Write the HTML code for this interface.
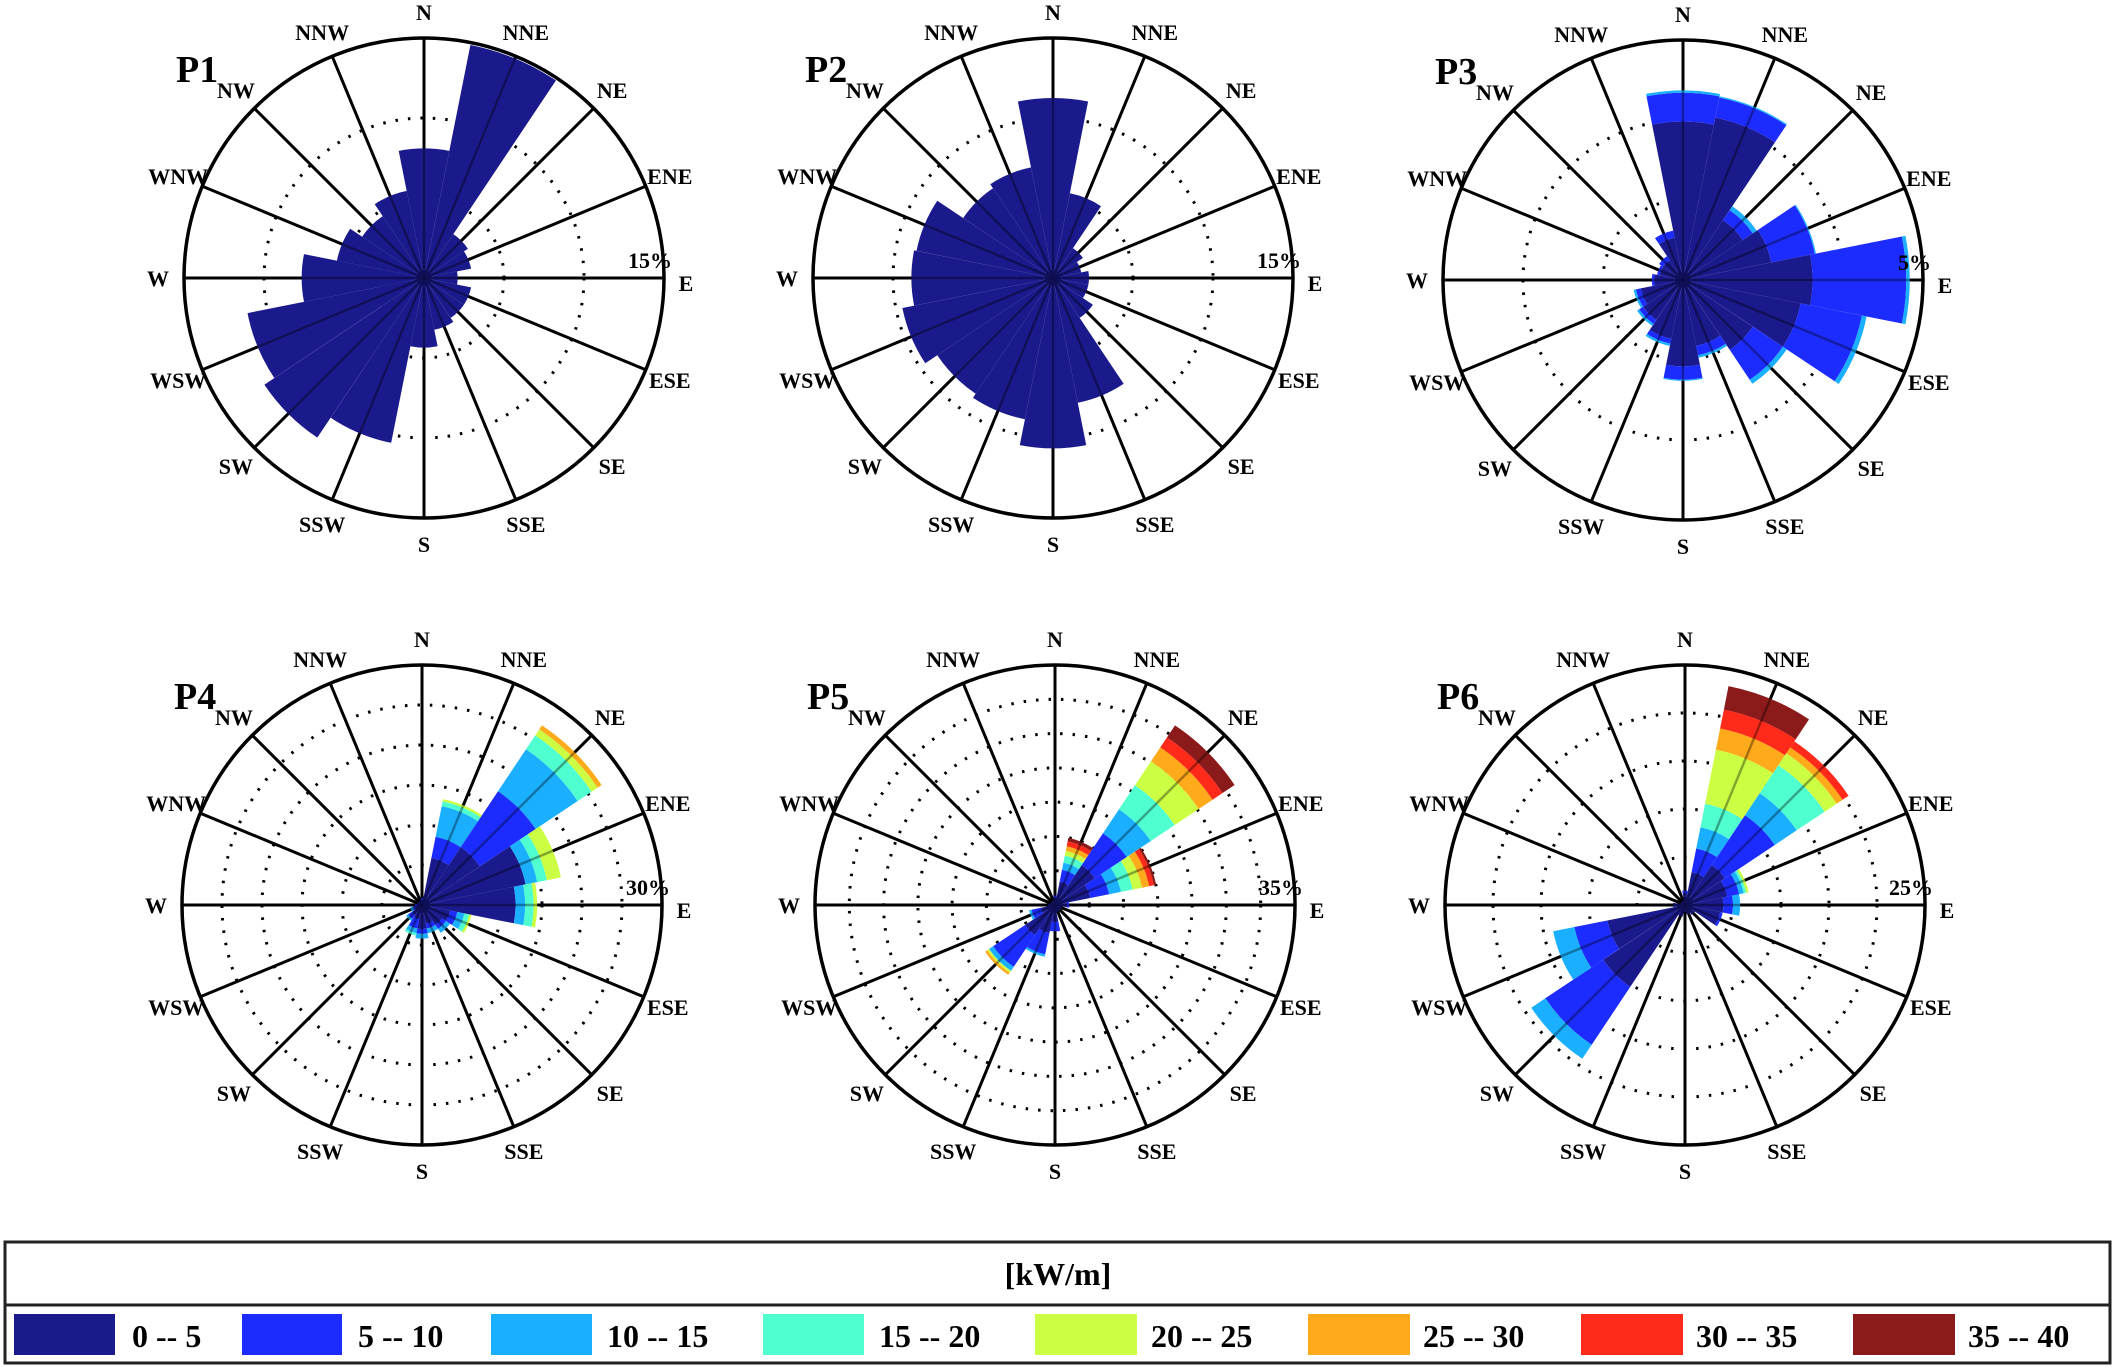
<!DOCTYPE html>
<html><head><meta charset="utf-8"><style>
html,body{margin:0;padding:0;background:#fff;}
svg{display:block;}
text{font-family:"Liberation Serif",serif;font-weight:bold;}
</style></head><body>
<svg id="s" width="2116" height="1367" viewBox="0 0 2116 1367" xmlns="http://www.w3.org/2000/svg">
<rect x="0" y="0" width="2116" height="1367" fill="#fff"/>
<g id="g"></g>
<!-- legend -->
<rect x="5" y="1242" width="2105" height="121" fill="none" stroke="#222" stroke-width="3"/>
<line x1="5" y1="1305" x2="2110" y2="1305" stroke="#222" stroke-width="3"/>
<text x="1058" y="1285" font-size="32" text-anchor="middle">[kW/m]</text>
<rect x="14" y="1314" width="101" height="41" fill="#1a1a8c"/><text x="132" y="1347" font-size="32">0 -- 5</text>
<rect x="242" y="1314" width="100" height="41" fill="#1c2cff"/><text x="358" y="1347" font-size="32">5 -- 10</text>
<rect x="491" y="1314" width="101" height="41" fill="#1ab0ff"/><text x="607" y="1347" font-size="32">10 -- 15</text>
<rect x="763" y="1314" width="101" height="41" fill="#50ffd0"/><text x="879" y="1347" font-size="32">15 -- 20</text>
<rect x="1035" y="1314" width="102" height="41" fill="#ccff44"/><text x="1151" y="1347" font-size="32">20 -- 25</text>
<rect x="1308" y="1314" width="102" height="41" fill="#ffaa1a"/><text x="1423" y="1347" font-size="32">25 -- 30</text>
<rect x="1581" y="1314" width="102" height="41" fill="#ff2a1a"/><text x="1696" y="1347" font-size="32">30 -- 35</text>
<rect x="1853" y="1314" width="102" height="41" fill="#8b1a1a"/><text x="1968" y="1347" font-size="32">35 -- 40</text>
</svg>
<script>
var C=["#1a1a8c","#1c2cff","#1ab0ff","#50ffd0","#ccff44","#ffaa1a","#ff2a1a","#8b1a1a"];
var D=["N","NNE","NE","ENE","E","ESE","SE","SSE","S","SSW","SW","WSW","W","WNW","NW","NNW"];
var P=[
{n:"P1",cx:424,cy:278,pct:"15%",rings:3,d:[[0.54],[0.99],[0.22],[0.2],[0.14],[0.2],[0.2],[0.22],[0.29],[0.7],[0.8],[0.75],[0.51],[0.37],[0.31],[0.37]]},
{n:"P2",cx:1053,cy:278,pct:"15%",rings:3,d:[[0.75],[0.36],[0.15],[0.12],[0.15],[0.15],[0.2],[0.53],[0.71],[0.6],[0.58],[0.64],[0.59],[0.58],[0.45],[0.47]]},
{n:"P3",cx:1683,cy:280,pct:"5%",rings:3,d:[[0.66,0.78,0.79],[0.69,0.775,0.78],[0.3,0.35,0.37],[0.375,0.56,0.565],[0.54,0.93,0.945],[0.5,0.76,0.78],[0.35,0.5,0.52],[0.28,0.32,0.33],[0.36,0.415,0.42],[0.25,0.27,0.28],[0.2,0.22,0.23],[0.18,0.2,0.21],[0.12,0.13,0.13],[0.1,0.11],[0.1,0.12],[0.18,0.21]]},
{n:"P4",cx:422,cy:905,pct:"30%",rings:6,d:[[0.02,0.03],[0.2,0.29,0.42,0.44,0.45],[0.29,0.57,0.78,0.85,0.88,0.9],[0.44,0.44,0.49,0.53,0.59],[0.39,0.39,0.43,0.465,0.48],[0.12,0.15,0.18,0.2,0.21],[0.1,0.12,0.14],[0.08,0.1,0.12],[0.1,0.12,0.14],[0.06,0.1,0.12,0.13],[0.05,0.07,0.08],[0.03,0.04,0.05],[0.02,0.03],[0.02],[0.02],[0.02]]},
{n:"P5",cx:1055,cy:905,pct:"35%",rings:7,d:[[0.03,0.04],[0.1,0.15,0.18,0.21,0.23,0.25,0.27,0.285],[0.2,0.36,0.48,0.6,0.72,0.79,0.84,0.9],[0.15,0.23,0.28,0.33,0.37,0.4,0.42,0.43],[0.05,0.06],[0.03],[0.03],[0.03],[0.07,0.11],[0.12,0.21,0.22],[0.15,0.31,0.33,0.33,0.34,0.35],[0.06,0.1,0.11],[0.03],[0.02],[0.02],[0.02]]},
{n:"P6",cx:1685,cy:905,pct:"25%",rings:5,d:[[0.05,0.06],[0.14,0.24,0.33,0.43,0.66,0.75,0.83,0.93],[0.2,0.45,0.56,0.7,0.76,0.79,0.82],[0.18,0.23,0.25,0.26,0.27],[0.16,0.2,0.23],[0.15,0.16],[0.05],[0.04],[0.03],[0.05],[0.41,0.7,0.77],[0.33,0.47,0.56],[0.05],[0.02],[0.02],[0.02]]}
];
var R=240,h="";
function pt(cx,cy,r,a){a=a*Math.PI/180;return [cx+r*Math.sin(a),cy-r*Math.cos(a)];}
function wedge(cx,cy,r0,r1,a0,a1,col){
 var p1=pt(cx,cy,r1,a0),p2=pt(cx,cy,r1,a1),p3=pt(cx,cy,r0,a1),p4=pt(cx,cy,r0,a0);
 return '<path d="M'+p4[0].toFixed(1)+' '+p4[1].toFixed(1)+'L'+p1[0].toFixed(1)+' '+p1[1].toFixed(1)+'A'+r1+' '+r1+' 0 0 1 '+p2[0].toFixed(1)+' '+p2[1].toFixed(1)+'L'+p3[0].toFixed(1)+' '+p3[1].toFixed(1)+(r0>0?'A'+r0+' '+r0+' 0 0 0 '+p4[0].toFixed(1)+' '+p4[1].toFixed(1):'')+'Z" fill="'+col+'"/>';
}
P.forEach(function(p){
 var cx=p.cx,cy=p.cy,i,k,s="";
 for(k=1;k<p.rings;k++)s+='<circle cx="'+cx+'" cy="'+cy+'" r="'+(R*k/p.rings).toFixed(1)+'" fill="none" stroke="#000" stroke-width="3" stroke-dasharray="2.5 10"/>';
 var lines="";
 for(i=0;i<8;i++){var a=pt(cx,cy,R,i*22.5),b=pt(cx,cy,R,i*22.5+180);lines+='<line x1="'+a[0].toFixed(1)+'" y1="'+a[1].toFixed(1)+'" x2="'+b[0].toFixed(1)+'" y2="'+b[1].toFixed(1)+'"/>';}
 s+='<g stroke="#000" stroke-width="3">'+lines+'</g>';
 for(i=0;i<16;i++){var v=p.d[i],prev=0;for(k=0;k<v.length;k++){if(v[k]>prev)s+=wedge(cx,cy,prev*R,v[k]*R,i*22.5-11.25,i*22.5+11.25,C[k]);prev=Math.max(prev,v[k]);}}
 s+='<g stroke="#000" stroke-width="2.5" opacity="0.35">'+lines+'</g>';
 s+='<circle cx="'+cx+'" cy="'+cy+'" r="'+R+'" fill="none" stroke="#000" stroke-width="3.5"/>';
 for(i=0;i<16;i++){var q=pt(cx,cy,266,i*22.5);if(i==4)q=[cx+262,cy+5];s+='<text x="'+q[0].toFixed(1)+'" y="'+(q[1]+8).toFixed(1)+'" font-size="22" text-anchor="middle">'+D[i]+'</text>';}
 s+='<text x="'+(cx+R+8)+'" y="'+(cy-10)+'" font-size="22" text-anchor="end">'+p.pct+'</text>';
 s+='<text x="'+(cx-248)+'" y="'+(cy-196)+'" font-size="38">'+p.n+'</text>';
 h+=s;
});
document.getElementById("g").innerHTML=h;
</script>
</body></html>
